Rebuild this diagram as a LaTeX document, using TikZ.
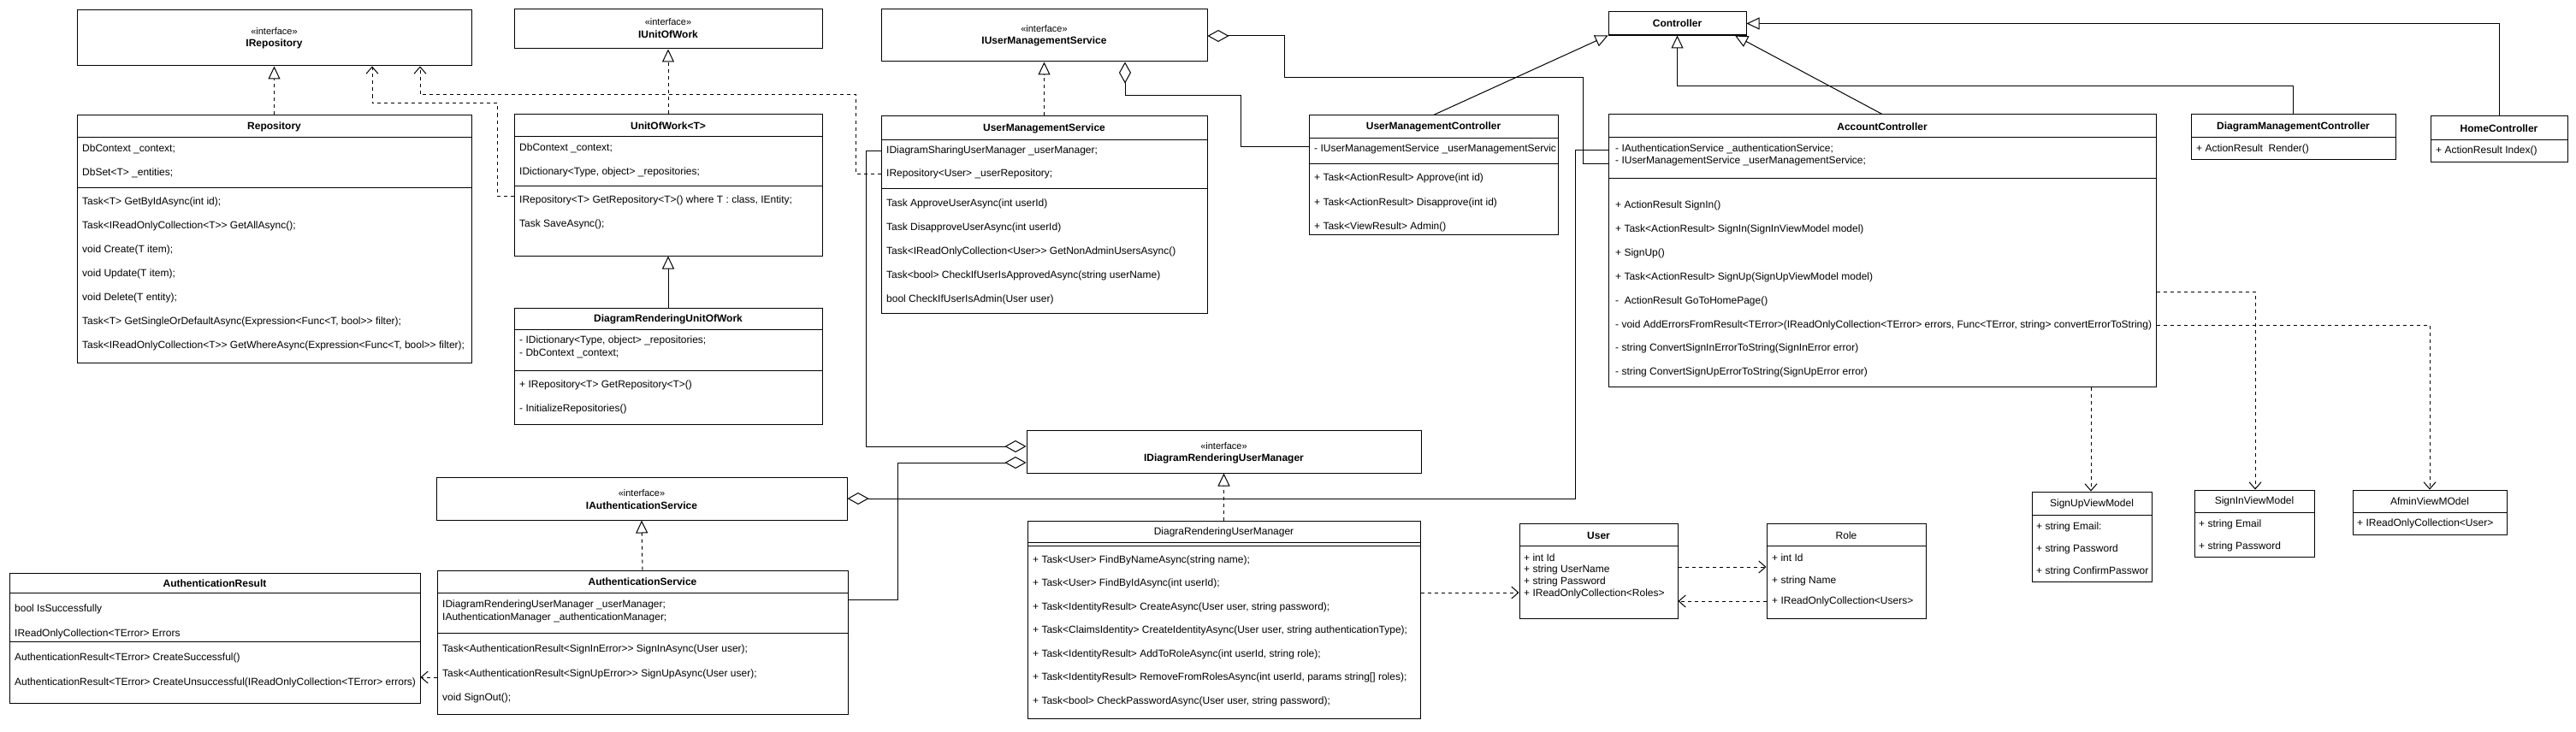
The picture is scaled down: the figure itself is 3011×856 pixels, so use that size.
\documentclass[tikz,border=0pt]{standalone}
\usepackage{fontspec}
\newfontfamily\umlfont{Liberation Sans}
\usetikzlibrary{arrows.meta,fit}
\tikzset{
  cbox/.style={draw, line width=1pt, inner sep=0pt},
  hdrtext/.style={font=\umlfont\fontsize{12}{14}\selectfont\bfseries, inner sep=0pt, anchor=center},
  hdrplain/.style={font=\umlfont\fontsize{12}{14}\selectfont, inner sep=0pt, anchor=center},
  ifacetext/.style={font=\umlfont\fontsize{11}{13}\selectfont, inner sep=0pt, anchor=center},
  memtext/.style={font=\umlfont\fontsize{12}{14}\selectfont, inner sep=0pt, anchor=west},
  sepline/.style={line width=1pt},
  real/.style={line width=1pt, dash pattern=on 4pt off 4pt, -{Triangle[length=15pt,width=14pt,fill=white]}},
  gen/.style={line width=1pt, -{Triangle[length=15pt,width=14pt,fill=white]}},
  dep/.style={line width=1pt, dash pattern=on 4pt off 4pt, -{Straight Barb[length=8pt,width=14pt]}},
  agg/.style={line width=1pt, -{Diamond[length=25pt,width=14pt,fill=white]}}
}
\newcommand{\cls}[5]{\node[cbox, fit={(#2,#3) (#4,#5)}] (#1) {};}
\newcommand{\hdr}[4]{\node[hdrtext] (#1) at (#2,#3) {#4};}
\newcommand{\hdrp}[4]{\node[hdrplain] (#1) at (#2,#3) {#4};}
\newcommand{\ifc}[4]{\node[ifacetext] (#1) at (#2,#3) {#4};}
\newcommand{\mem}[4]{\node[memtext] (#1) at (#2,#3) {#4};}
\newcommand{\sepl}[3]{\draw[sepline] (#1,#3) -- (#2,#3);}
\begin{document}
\begin{tikzpicture}[x=1pt,y=-1pt]
\fill[white] (0,0) rectangle (3011,856);
\useasboundingbox (0,0) rectangle (3011,856);

% IRepository
\cls{irepo}{90}{12}{551}{77}
\ifc{irepo-s}{320.5}{37}{«interface»}
\hdr{irepo-n}{320.5}{51}{IRepository}

% Repository
\cls{repo}{90}{135}{551}{424}
\hdr{repo-n}{320.5}{148}{Repository}
\sepl{90}{551}{160}
\mem{repo-a1}{96}{174}{DbContext \_context;}
\mem{repo-a2}{96}{202}{DbSet<T> \_entities;}
\sepl{90}{551}{219}
\mem{repo-m1}{96}{236}{Task<T> GetByIdAsync(int id);}
\mem{repo-m2}{96}{264}{Task<IReadOnlyCollection<T>> GetAllAsync();}
\mem{repo-m3}{96}{292}{void Create(T item);}
\mem{repo-m4}{96}{320}{void Update(T item);}
\mem{repo-m5}{96}{348}{void Delete(T entity);}
\mem{repo-m6}{96}{376}{Task<T> GetSingleOrDefaultAsync(Expression<Func<T, bool>> filter);}
\mem{repo-m7}{96}{404}{Task<IReadOnlyCollection<T>> GetWhereAsync(Expression<Func<T, bool>> filter);}

% IUnitOfWork
\cls{iuow}{601}{11}{961}{57}
\ifc{iuow-s}{781}{26}{«interface»}
\hdr{iuow-n}{781}{40}{IUnitOfWork}

% UnitOfWork<T>
\cls{uow}{601}{134}{961}{299}
\hdr{uow-n}{781}{147}{UnitOfWork<T>}
\sepl{601}{961}{159}
\mem{uow-a1}{607}{173}{DbContext \_context;}
\mem{uow-a2}{607}{201}{IDictionary<Type, object> \_repositories;}
\sepl{601}{961}{217}
\mem{uow-m1}{607}{234}{IRepository<T> GetRepository<T>() where T : class, IEntity;}
\mem{uow-m2}{607}{262}{Task SaveAsync();}

% DiagramRenderingUnitOfWork
\cls{druow}{601}{360}{961}{496}
\hdr{druow-n}{781}{373}{DiagramRenderingUnitOfWork}
\sepl{601}{961}{385}
\mem{druow-a1}{607}{398}{- IDictionary<Type, object> \_repositories;}
\mem{druow-a2}{607}{413}{- DbContext \_context;}
\sepl{601}{961}{433}
\mem{druow-m1}{607}{450}{+ IRepository<T> GetRepository<T>()}
\mem{druow-m2}{607}{478}{- InitializeRepositories()}

% IUserManagementService
\cls{iums}{1030}{11}{1411}{72}
\ifc{iums-s}{1220.5}{34}{«interface»}
\hdr{iums-n}{1220.5}{48}{IUserManagementService}

% UserManagementService
\cls{ums}{1030}{136}{1411}{366}
\hdr{ums-n}{1220.5}{150}{UserManagementService}
\sepl{1030}{1411}{163}
\mem{ums-a1}{1036}{176}{IDiagramSharingUserManager \_userManager;}
\mem{ums-a2}{1036}{203}{IRepository<User> \_userRepository;}
\sepl{1030}{1411}{220}
\mem{ums-m1}{1036}{238}{Task ApproveUserAsync(int userId)}
\mem{ums-m2}{1036}{266}{Task DisapproveUserAsync(int userId)}
\mem{ums-m3}{1036}{294}{Task<IReadOnlyCollection<User>> GetNonAdminUsersAsync()}
\mem{ums-m4}{1036}{322}{Task<bool> CheckIfUserIsApprovedAsync(string userName)}
\mem{ums-m5}{1036}{350}{bool CheckIfUserIsAdmin(User user)}

% Controller
\cls{ctrl}{1880}{14}{2041}{41}
\hdr{ctrl-n}{1960.5}{27}{Controller}
\draw[line width=2pt] (ctrl.south west) -- (ctrl.south east);

% UserManagementController
\cls{umc}{1530}{135}{1821}{274}
\hdr{umc-n}{1675.5}{148}{UserManagementController}
\sepl{1530}{1821}{161}
\begin{scope}
\clip (1530,135) rectangle (1820,274);
\mem{umc-a1}{1536}{174}{- IUserManagementService \_userManagementServic}
\end{scope}
\sepl{1530}{1821}{191}
\mem{umc-m1}{1536}{208}{+ Task<ActionResult> Approve(int id)}
\mem{umc-m2}{1536}{237}{+ Task<ActionResult> Disapprove(int id)}
\mem{umc-m3}{1536}{265}{+ Task<ViewResult> Admin()}

% AccountController
\cls{ac}{1880}{134}{2520}{452}
\hdr{ac-n}{2200}{148}{AccountController}
\sepl{1880}{2520}{160}
\mem{ac-a1}{1888}{174}{- IAuthenticationService \_authenticationService;}
\mem{ac-a2}{1888}{188}{- IUserManagementService \_userManagementService;}
\sepl{1880}{2520}{208}
\mem{ac-m1}{1888}{240}{+ ActionResult SignIn()}
\mem{ac-m2}{1888}{268}{+ Task<ActionResult> SignIn(SignInViewModel model)}
\mem{ac-m3}{1888}{296}{+ SignUp()}
\mem{ac-m4}{1888}{324}{+ Task<ActionResult> SignUp(SignUpViewModel model)}
\mem{ac-m5}{1888}{352}{- \ ActionResult GoToHomePage()}
\mem{ac-m6}{1888}{380}{- void AddErrorsFromResult<TError>(IReadOnlyCollection<TError> errors, Func<TError, string> convertErrorToString)}
\mem{ac-m7}{1888}{407}{- string ConvertSignInErrorToString(SignInError error)}
\mem{ac-m8}{1888}{435}{- string ConvertSignUpErrorToString(SignUpError error)}

% DiagramManagementController
\cls{dmc}{2561}{134}{2800}{186}
\hdr{dmc-n}{2680.5}{148}{DiagramManagementController}
\sepl{2561}{2800}{160}
\mem{dmc-m1}{2567}{174}{+ ActionResult \ Render()}

% HomeController
\cls{hc}{2841}{136}{3001}{189}
\hdr{hc-n}{2921}{150}{HomeController}
\sepl{2841}{3001}{163}
\mem{hc-m1}{2847}{176}{+ ActionResult Index()}

% IDiagramRenderingUserManager
\cls{idrum}{1200}{503}{1661}{553}
\ifc{idrum-s}{1430.5}{522}{«interface»}
\hdr{idrum-n}{1430.5}{536}{IDiagramRenderingUserManager}

% IAuthenticationService
\cls{ias}{510}{558}{990}{608}
\ifc{ias-s}{750}{577}{«interface»}
\hdr{ias-n}{750}{591}{IAuthenticationService}

% DiagraRenderingUserManager
\cls{drum}{1201}{609}{1660}{840}
\hdrp{drum-n}{1430.5}{622}{DiagraRenderingUserManager}
\sepl{1201}{1660}{634}
\sepl{1201}{1660}{638}
\mem{drum-m1}{1207}{655}{+ Task<User> FindByNameAsync(string name);}
\mem{drum-m2}{1207}{682.5}{+ Task<User> FindByIdAsync(int userId);}
\mem{drum-m3}{1207}{710}{+ Task<IdentityResult> CreateAsync(User user, string password);}
\mem{drum-m4}{1207}{737.5}{+ Task<ClaimsIdentity> CreateIdentityAsync(User user, string authenticationType);}
\mem{drum-m5}{1207}{765}{+ Task<IdentityResult> AddToRoleAsync(int userId, string role);}
\mem{drum-m6}{1207}{792.5}{+ Task<IdentityResult> RemoveFromRolesAsync(int userId, params string[] roles);}
\mem{drum-m7}{1207}{820}{+ Task<bool> CheckPasswordAsync(User user, string password);}

% AuthenticationResult
\cls{ares}{11}{670}{491}{822}
\hdr{ares-n}{251}{682}{AuthenticationResult}
\sepl{11}{491}{693}
\mem{ares-a1}{17}{712}{bool IsSuccessfully}
\mem{ares-a2}{17}{741}{IReadOnlyCollection<TError> Errors}
\sepl{11}{491}{750}
\mem{ares-m1}{17}{769}{AuthenticationResult<TError> CreateSuccessful()}
\mem{ares-m2}{17}{798}{AuthenticationResult<TError> CreateUnsuccessful(IReadOnlyCollection<TError> errors)}

% AuthenticationService
\cls{asvc}{511}{667}{991}{835}
\hdr{asvc-n}{751}{680}{AuthenticationService}
\sepl{511}{991}{693}
\mem{asvc-a1}{517}{707}{IDiagramRenderingUserManager \_userManager;}
\mem{asvc-a2}{517}{722}{IAuthenticationManager \_authenticationManager;}
\sepl{511}{991}{740}
\mem{asvc-m1}{517}{759}{Task<AuthenticationResult<SignInError>> SignInAsync(User user);}
\mem{asvc-m2}{517}{788}{Task<AuthenticationResult<SignUpError>> SignUpAsync(User user);}
\mem{asvc-m3}{517}{816}{void SignOut();}

% User
\cls{user}{1776}{612}{1961}{723}
\hdr{user-n}{1868.5}{626}{User}
\sepl{1776}{1961}{638}
\mem{user-a1}{1781}{652}{+ int Id}
\mem{user-a2}{1781}{666}{+ string UserName}
\mem{user-a3}{1781}{680}{+ string Password}
\mem{user-a4}{1781}{694}{+ IReadOnlyCollection<Roles>}

% Role
\cls{role}{2065}{612}{2251}{723}
\hdrp{role-n}{2158}{626}{Role}
\sepl{2065}{2251}{638}
\mem{role-a1}{2071}{652}{+ int Id}
\mem{role-a2}{2071}{679}{+ string Name}
\mem{role-a3}{2071}{703}{+ IReadOnlyCollection<Users>}

% SignUpViewModel
\cls{suvm}{2375}{575}{2515}{680}
\hdrp{suvm-n}{2445}{589}{SignUpViewModel}
\sepl{2375}{2515}{602}
\mem{suvm-a1}{2380}{616}{+ string Email:}
\mem{suvm-a2}{2380}{642}{+ string Password}
\begin{scope}
\clip (2375,602) rectangle (2514,680);
\mem{suvm-a3}{2380}{668}{+ string ConfirmPasswor}
\end{scope}

% SignInViewModel
\cls{sivm}{2565}{573}{2705}{651}
\hdrp{sivm-n}{2635}{586}{SignInViewModel}
\sepl{2565}{2705}{599}
\mem{sivm-a1}{2570}{613}{+ string Email}
\mem{sivm-a2}{2570}{639}{+ string Password}

% AfminViewMOdel
\cls{avm}{2750}{573}{2930}{625}
\hdrp{avm-n}{2840}{586}{AfminViewMOdel}
\sepl{2750}{2930}{599}
\mem{avm-a1}{2755}{612}{+ IReadOnlyCollection<User>}

% ---------- connectors ----------
\draw[real] (repo.north) -- (irepo.south);
\draw[dep] (uow.west |- 0,229) -- (581,229) -- (581,121) -- (435,121) -- (irepo.south -| 435,0);
\draw[dep] (ums.west |- ums-a2) -- (1000,203) -- (1000,111) -- (491,111) -- (irepo.south -| 491,0);
\draw[real] (uow.north) -- (iuow.south);
\draw[gen] (druow.north) -- (uow.south);
\draw[real] (ums.north) -- (iums.south);
\draw[agg] (ac.west |- 0,191) -- (1850,191) -- (1850,91) -- (1501,91) -- (1501,42) -- (iums.east |- 0,42);
\draw[agg] (umc.west |- 0,171) -- (1450,171) -- (1450,112) -- (1315,112) -- (iums.south -| 1315,0);
\draw[agg] (ums.west |- ums-a1) -- (1012,176) -- (1012,522) -- (idrum.west |- 0,522);
\draw[agg] (asvc.east |- 0,701) -- (1049,701) -- (1049,541) -- (idrum.west |- 0,541);
\draw[agg] (ac.west |- 0,175) -- (1841,175) -- (1841,583) -- (ias.east |- 0,583);
\draw[gen] (umc.north) -- (ctrl.south west);
\draw[gen] (ac.north) -- (ctrl.south -| 2028,0);
\draw[gen] (dmc.north) -- (2680.5,101) -- (1960.5,101) -- (ctrl.south);
\draw[gen] (hc.north) -- (2921,27.5) -- (ctrl.east);
\draw[real] (drum.north) -- (idrum.south);
\draw[real] (asvc.north) -- (ias.south);
\draw[dep] (asvc.west |- 0,792) -- (ares.east |- 0,792);
\draw[dep] (drum.east |- 0,693) -- (user.west |- 0,693);
\draw[dep] (user.east |- 0,663) -- (role.west |- 0,663);
\draw[dep] (role.west |- 0,703) -- (user.east |- 0,703);
\draw[dep] (ac.south -| 2444,0) -- (suvm.north -| 2444,0);
\draw[dep] (ac.east |- 0,341) -- (2636,341) -- (sivm.north -| 2636,0);
\draw[dep] (ac.east |- 0,380) -- (2840,380) -- (avm.north);
\end{tikzpicture}
\end{document}
